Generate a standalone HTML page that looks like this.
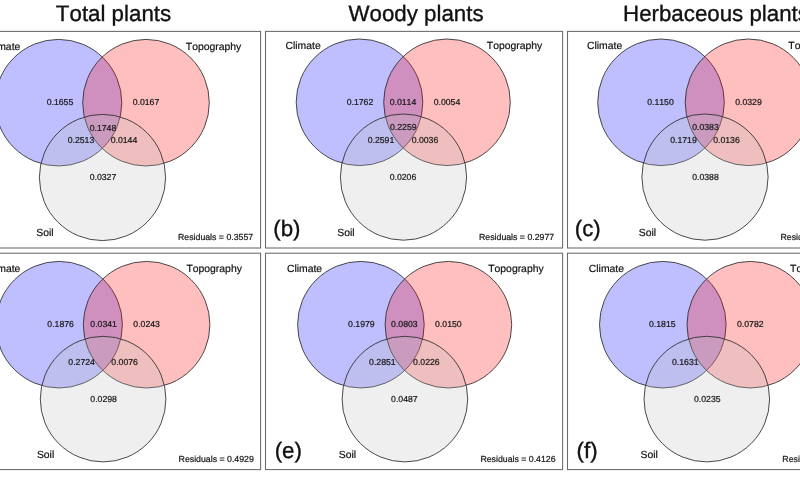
<!DOCTYPE html>
<html lang="en"><head><meta charset="utf-8"><title>Variation partitioning</title>
<style>
html,body{margin:0;padding:0;background:#fff;}
body{width:800px;height:480px;overflow:hidden;position:relative;}
svg{filter:blur(0.4px);font-kerning:none;text-rendering:geometricPrecision;position:absolute;left:0;top:0;display:block;font-family:"Liberation Sans",Arial,Helvetica,sans-serif;}
.t{font-size:22.3px;fill:#111;stroke:#111;stroke-width:0.35px;text-anchor:middle;}
.l{font-size:10.4px;fill:#111;stroke:#111;stroke-width:0.2px;}
.n{font-size:8.7px;fill:#1a1a1a;stroke:#1a1a1a;stroke-width:0.22px;text-anchor:middle;}
.r{font-size:8.75px;fill:#1a1a1a;stroke:#1a1a1a;stroke-width:0.22px;text-anchor:end;}
.p{font-size:22.3px;fill:#111;stroke:#111;stroke-width:0.35px;}
.f{fill:#fff;stroke:#6a6a6a;stroke-width:1.05;}
.c{stroke:#2a2a2a;stroke-width:0.85;}
</style></head><body>
<svg width="800" height="480" viewBox="0 0 800 480">
<rect x="0" y="0" width="800" height="480" fill="#fff"/>
<text class="t" x="113.5" y="20.7">Total plants</text>
<text class="t" x="416" y="20.7">Woody plants</text>
<text class="t" x="716" y="20.7">Herbaceous plants</text>
<g transform="translate(-302.0,0.0)">
<rect class="f" x="265.5" y="31.4" width="297.1" height="216.6"/>
<g transform="translate(1.0,0.4)">
<circle class="c" cx="359.5" cy="102.3" r="63.3" fill="rgba(0,0,255,0.25)"/>
<circle class="c" cx="447.0" cy="102.3" r="63.3" fill="rgba(255,0,0,0.25)"/>
<circle class="c" cx="403.5" cy="177.1" r="63.1" fill="rgba(190,190,190,0.25)"/>
<text class="l" x="286.1" y="49.4">Climate</text>
<text class="l" x="486.8" y="49.3">Topography</text>
<text class="l" x="337.3" y="235.6">Soil</text>
<text class="p" x="273.3" y="235.6">(a)</text>
<text class="r" x="554.2" y="239.5">Residuals = 0.3557</text>
<text class="n" x="361" y="105.1">0.1655</text>
<text class="n" x="447" y="105.1">0.0167</text>
<text class="n" x="404" y="130.3">0.1748</text>
<text class="n" x="382" y="143.1">0.2513</text>
<text class="n" x="425" y="143.1">0.0144</text>
<text class="n" x="404" y="180.1">0.0327</text>
</g>
</g>
<g transform="translate(0.0,0.0)">
<rect class="f" x="265.5" y="31.4" width="297.1" height="216.6"/>
<g transform="translate(0,0)">
<circle class="c" cx="359.5" cy="102.3" r="63.3" fill="rgba(0,0,255,0.25)"/>
<circle class="c" cx="447.0" cy="102.3" r="63.3" fill="rgba(255,0,0,0.25)"/>
<circle class="c" cx="403.5" cy="177.1" r="63.1" fill="rgba(190,190,190,0.25)"/>
<text class="l" x="285.5" y="49.4">Climate</text>
<text class="l" x="486.8" y="49.3">Topography</text>
<text class="l" x="337.3" y="235.6">Soil</text>
<text class="p" x="273.3" y="235.6">(b)</text>
<text class="r" x="554.2" y="239.5">Residuals = 0.2977</text>
<text class="n" x="360" y="105.1">0.1762</text>
<text class="n" x="403" y="105.1">0.0114</text>
<text class="n" x="447" y="105.1">0.0054</text>
<text class="n" x="403.3" y="130.1">0.2259</text>
<text class="n" x="381" y="143.1">0.2591</text>
<text class="n" x="425" y="143.1">0.0036</text>
<text class="n" x="403" y="180.1">0.0206</text>
</g>
</g>
<g transform="translate(302.0,0.0)">
<rect class="f" x="265.5" y="31.4" width="297.1" height="216.6"/>
<g transform="translate(-0.5,0)">
<circle class="c" cx="359.5" cy="102.3" r="63.3" fill="rgba(0,0,255,0.25)"/>
<circle class="c" cx="447.0" cy="102.3" r="63.3" fill="rgba(255,0,0,0.25)"/>
<circle class="c" cx="403.5" cy="177.1" r="63.1" fill="rgba(190,190,190,0.25)"/>
<text class="l" x="285.5" y="49.4">Climate</text>
<text class="l" x="486.8" y="49.3">Topography</text>
<text class="l" x="337.3" y="235.6">Soil</text>
<text class="p" x="273.3" y="235.6">(c)</text>
<text class="r" x="554.2" y="239.5">Residuals = 0.3795</text>
<text class="n" x="359" y="105.1">0.1150</text>
<text class="n" x="447" y="105.1">0.0329</text>
<text class="n" x="404" y="130.3">0.0383</text>
<text class="n" x="382" y="143.1">0.1719</text>
<text class="n" x="425" y="143.1">0.0136</text>
<text class="n" x="404" y="180.1">0.0388</text>
</g>
</g>
<g transform="translate(-302.0,221.5)">
<rect class="f" x="265.5" y="31.7" width="297.1" height="216.4"/>
<g transform="translate(1.6,0.9)">
<circle class="c" cx="359.5" cy="102.3" r="63.3" fill="rgba(0,0,255,0.25)"/>
<circle class="c" cx="447.0" cy="102.3" r="63.3" fill="rgba(255,0,0,0.25)"/>
<circle class="c" cx="403.5" cy="176.7" r="62.8" fill="rgba(190,190,190,0.25)"/>
<text class="l" x="285.5" y="49.4">Climate</text>
<text class="l" x="486.8" y="49.3">Topography</text>
<text class="l" x="337.3" y="235.6">Soil</text>
<text class="p" x="273.3" y="235.6">(d)</text>
<text class="r" x="554.2" y="239.5">Residuals = 0.4929</text>
<text class="n" x="361" y="105.1">0.1876</text>
<text class="n" x="404" y="105.1">0.0341</text>
<text class="n" x="447" y="105.1">0.0243</text>
<text class="n" x="382" y="143.1">0.2724</text>
<text class="n" x="425" y="143.1">0.0076</text>
<text class="n" x="404" y="180.1">0.0298</text>
</g>
</g>
<g transform="translate(0.0,221.5)">
<rect class="f" x="265.5" y="31.7" width="297.1" height="216.4"/>
<g transform="translate(1.4,0.9)">
<circle class="c" cx="359.5" cy="102.3" r="63.3" fill="rgba(0,0,255,0.25)"/>
<circle class="c" cx="447.0" cy="102.3" r="63.3" fill="rgba(255,0,0,0.25)"/>
<circle class="c" cx="403.5" cy="176.7" r="62.8" fill="rgba(190,190,190,0.25)"/>
<text class="l" x="285.5" y="49.4">Climate</text>
<text class="l" x="486.8" y="49.3">Topography</text>
<text class="l" x="337.3" y="235.6">Soil</text>
<text class="p" x="273.3" y="235.6">(e)</text>
<text class="r" x="554.2" y="239.5">Residuals = 0.4126</text>
<text class="n" x="360" y="105.1">0.1979</text>
<text class="n" x="403" y="105.1">0.0803</text>
<text class="n" x="447" y="105.1">0.0150</text>
<text class="n" x="381" y="143.1">0.2851</text>
<text class="n" x="425" y="143.1">0.0226</text>
<text class="n" x="403" y="180.1">0.0487</text>
</g>
</g>
<g transform="translate(302.0,221.5)">
<rect class="f" x="265.5" y="31.7" width="297.1" height="216.4"/>
<g transform="translate(1.3,0.9)">
<circle class="c" cx="359.5" cy="102.3" r="63.3" fill="rgba(0,0,255,0.25)"/>
<circle class="c" cx="447.0" cy="102.3" r="63.3" fill="rgba(255,0,0,0.25)"/>
<circle class="c" cx="403.5" cy="176.7" r="62.8" fill="rgba(190,190,190,0.25)"/>
<text class="l" x="285.5" y="49.4">Climate</text>
<text class="l" x="486.8" y="49.3">Topography</text>
<text class="l" x="337.3" y="235.6">Soil</text>
<text class="p" x="273.3" y="235.6">(f)</text>
<text class="r" x="554.2" y="239.5">Residuals = 0.5537</text>
<text class="n" x="359" y="105.1">0.1815</text>
<text class="n" x="447" y="105.1">0.0782</text>
<text class="n" x="382" y="143.1">0.1631</text>
<text class="n" x="404" y="180.1">0.0235</text>
</g>
</g>
</svg>
</body></html>
